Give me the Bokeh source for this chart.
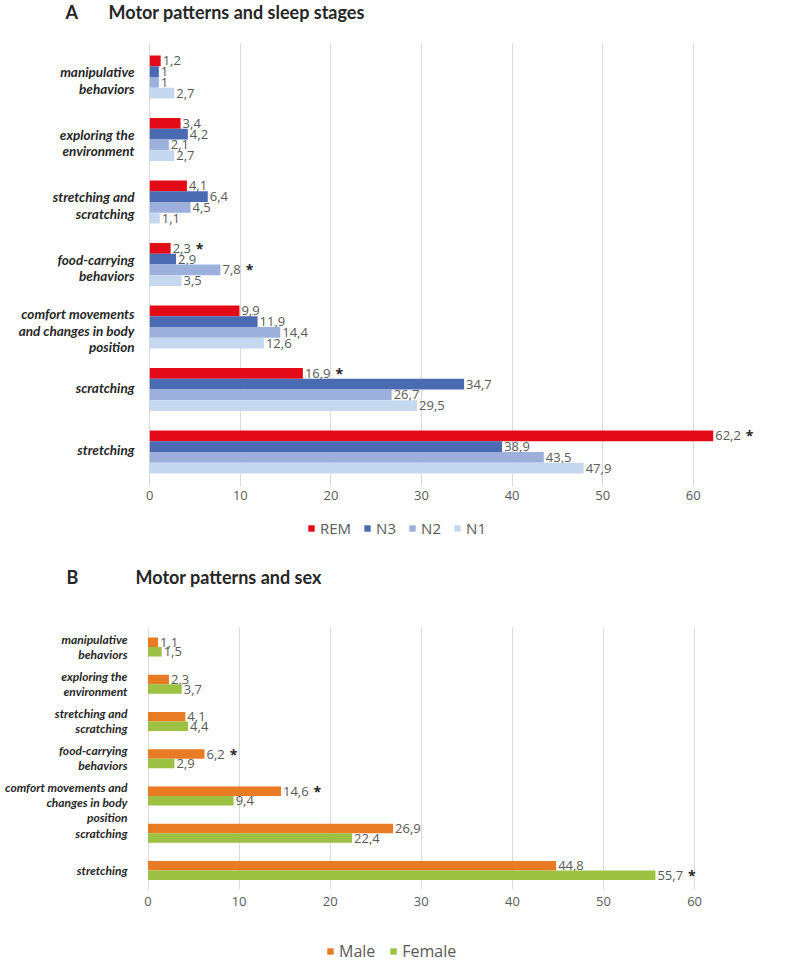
from bokeh.plotting import figure
from bokeh.models import (ColumnDataSource, Range1d, FixedTicker, Legend, LegendItem, Grid)
from bokeh.layouts import column
from bokeh.embed import file_html
from bokeh.resources import INLINE
from bokeh.core.properties import value

# ---------------- data ----------------
categories = ["manipulative\nbehaviors", "exploring the\nenvironment", "stretching and\nscratching",
              "food-carrying\nbehaviors", "comfort movements\nand changes in body\nposition",
              "scratching", "stretching"]
categories_b = ["manipulative\nbehaviors", "exploring the\nenvironment", "stretching and\nscratching",
                "food-carrying\nbehaviors", "comfort movements and\nchanges in body\nposition",
                "scratching", "stretching"]

stages = ["REM", "N3", "N2", "N1"]
rem = [1.2, 3.4, 4.1, 2.3, 9.9, 16.9, 62.2]
n3 = [1.0, 4.2, 6.4, 2.9, 11.9, 34.7, 38.9]
n2 = [1.0, 2.1, 4.5, 7.8, 14.4, 26.7, 43.5]
n1 = [2.7, 2.7, 1.1, 3.5, 12.6, 29.5, 47.9]
rem_sig = [False, False, False, True, False, True, True]
n3_sig = [False] * 7
n2_sig = [False, False, False, True, False, False, False]
n1_sig = [False] * 7

sexes = ["Male", "Female"]
male = [1.1, 2.3, 4.1, 6.2, 14.6, 26.9, 44.8]
female = [1.5, 3.7, 4.4, 2.9, 9.4, 22.4, 55.7]
male_sig = [False, False, False, True, True, False, False]
female_sig = [False, False, False, False, False, False, True]

x_ticks = [0, 10, 20, 30, 40, 50, 60]

title_a = "Motor patterns and sleep stages"
title_b = "Motor patterns and sex"

# ---------------- style ----------------
colors_a = ["#E30B17", "#4A6BB2", "#9CB0DB", "#C6D8EF"]
colors_b = ["#E97B24", "#9DC243"]
LABEL_COLOR = "#595959"
DARK = "#262626"
W = 800
PAGE_MARGIN = 0   # bokeh's standalone template sets body margin to 0


def fmt(v):
    return f"{v:g}".replace(".", ",")


def text_width(s, px):
    return sum(px * (0.57 if c.isdigit() else 0.26) for c in s)


def build(cats, series, names, sigs, colors, top_img, height, x0_img, pxu, y0_img, pyu,
          axis_img, grid_top_img, bar_px, cat_font, cat_lh, cat_right_img, cat_shift, val_font,
          tick_standoff, legend_img, legend_font, legend_spacing, title_txt, title_left_img,
          letter, letter_left_img, title_img):
    # layout helpers: page-pixel positions -> data coordinates of this figure
    def X(img_x):
        return (img_x - x0_img) / pxu

    def Y(img_y):
        return (img_y - y0_img) / pyu

    left_img, right_img = PAGE_MARGIN, PAGE_MARGIN + W
    bottom_img = top_img + height
    p = figure(width=W, height=height, output_backend="svg", toolbar_location=None,
               x_range=Range1d(X(left_img), X(right_img)),
               y_range=Range1d(Y(bottom_img), Y(top_img)),
               y_axis_location=None, min_border_left=0, min_border_right=0,
               min_border_top=0, min_border_bottom=0)
    p.outline_line_color = None
    p.background_fill_color = "white"
    p.border_fill_color = "white"
    p.ygrid.visible = False

    ticker = FixedTicker(ticks=x_ticks)
    ax = p.xaxis[0]
    ax.ticker = ticker
    ax.fixed_location = Y(axis_img)
    ax.axis_line_color = None
    ax.major_tick_line_color = None
    ax.major_tick_out = 0
    ax.major_tick_in = 0
    ax.minor_tick_line_color = None
    ax.major_label_standoff = tick_standoff
    ax.major_label_text_font = "Open Sans"
    ax.major_label_text_font_size = "13px"
    ax.major_label_text_color = LABEL_COLOR

    grid = p.xgrid[0]
    grid.ticker = ticker
    grid.grid_line_color = "#D9D9D9"
    grid.grid_line_width = 1
    if "cross_bounds" in Grid.properties():
        grid.cross_bounds = (Y(axis_img), Y(grid_top_img))
    else:
        grid.visible = False
        p.segment(x0=x_ticks, x1=x_ticks, y0=[Y(grid_top_img)] * len(x_ticks),
                  y1=[Y(axis_img)] * len(x_ticks), line_color="#D9D9D9", line_width=1)

    n = len(series)
    bar_h = bar_px / pyu
    idx = list(range(len(cats)))
    renderers = []
    for i, (vals, name, sig, col) in enumerate(zip(series, names, sigs, colors)):
        off = (i - (n - 1) / 2) * bar_h
        labs = [fmt(v) for v in vals]
        star_x = [2 + text_width(l, val_font) + 5 if s else 0 for l, s in zip(labs, sig)]
        src = ColumnDataSource(dict(y=[k + off for k in idx], val=vals, lab=labs,
                                    star=["*" if s else "" for s in sig], sx=star_x))
        r = p.hbar(y="y", left=0, right="val", height=bar_h, source=src,
                   fill_color=col, line_color=None)
        renderers.append(r)
        p.text(x="val", y="y", text="lab", source=src, x_offset=2,
               text_baseline="middle", text_align="left",
               text_font=value("Open Sans"), text_font_size=f"{val_font}px",
               text_color=LABEL_COLOR)
        p.text(x="val", y="y", text="star", source=src, x_offset="sx",
               text_baseline="middle", text_align="left",
               text_font=value("Open Sans"), text_font_size="14px", text_font_style="bold",
               text_color=DARK)

    # category labels (multi-line, right aligned)
    rows = dict(y=[], line=[])
    for k, c in enumerate(cats):
        lines = c.split("\n")
        m = len(lines)
        for j, ln in enumerate(lines):
            rows["y"].append(k + ((j - (m - 1) / 2) * cat_lh + cat_shift[m]) / pyu)
            rows["line"].append(ln)
    p.text(x=X(cat_right_img), y="y", text="line", source=ColumnDataSource(rows),
           text_align="right", text_baseline="middle", text_font=value("Lato"),
           text_font_style="bold italic", text_font_size=f"{cat_font}px", text_color=DARK)

    # panel letter and title
    p.text(x=[X(letter_left_img), X(title_left_img)], y=[Y(title_img)] * 2,
           text=[letter, title_txt], text_align="left", text_baseline="middle",
           text_font=value("Lato"), text_font_style="bold", text_font_size="18px",
           text_color=DARK)

    # legend (inside the frame; location = bottom-left corner in frame pixels, y up)
    lx_img, lcy_img = legend_img
    leg_h = 20
    legend = Legend(items=[LegendItem(label=nm, renderers=[r]) for nm, r in zip(names, renderers)],
                    orientation="horizontal",
                    location=(lx_img - left_img, bottom_img - (lcy_img + leg_h / 2)),
                    glyph_width=8, glyph_height=8,
                    label_standoff=5, spacing=legend_spacing, padding=0, margin=0,
                    border_line_alpha=0, background_fill_alpha=0,
                    label_text_font="Open Sans", label_text_font_size=f"{legend_font}px",
                    label_text_color=LABEL_COLOR, label_height=leg_h)
    p.add_layout(legend)
    return p


pa = build(categories, [rem, n3, n2, n1], stages, [rem_sig, n3_sig, n2_sig, n1_sig], colors_a,
           top_img=0, height=551, x0_img=149.3, pxu=9.058, y0_img=76.5, pyu=62.5,
           axis_img=486, grid_top_img=43, bar_px=10.75, cat_font=13.5, cat_lh=16.7,
           cat_right_img=134, cat_shift={1: -2, 2: 3.5, 3: 3.5}, val_font=13, tick_standoff=4,
           legend_img=(307, 528), legend_font=15, legend_spacing=12,
           title_txt=title_a, title_left_img=108, letter="A", letter_left_img=65, title_img=11)

pb = build(categories_b, [male, female], sexes, [male_sig, female_sig], colors_b,
           top_img=551, height=414, x0_img=147.5, pxu=9.11, y0_img=646.5, pyu=37.25,
           axis_img=888.6, grid_top_img=627, bar_px=9.5, cat_font=12, cat_lh=15,
           cat_right_img=127, cat_shift={1: 0, 2: -0.5, 3: 6}, val_font=13, tick_standoff=8,
           legend_img=(326, 952), legend_font=16, legend_spacing=14,
           title_txt=title_b, title_left_img=135, letter="B", letter_left_img=66, title_img=576)

layout = column(pa, pb, spacing=0)
open("out.html", "w").write(file_html(layout, INLINE))
